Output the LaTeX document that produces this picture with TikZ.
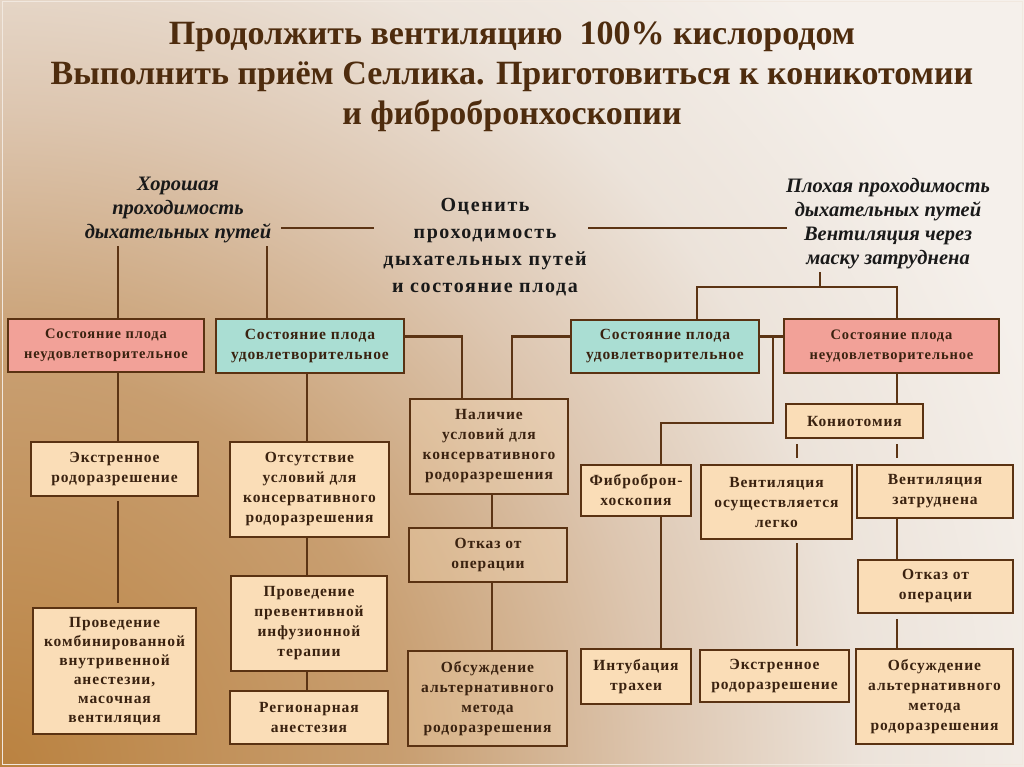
\documentclass[tikz,border=0pt]{standalone}
\usepackage{fontspec}
\setmainfont{Liberation Serif}
\newfontfamily\boxfont{Liberation Serif}[LetterSpace=6]
\newfontfamily\widefont{Liberation Serif}[LetterSpace=8]
\usetikzlibrary{calc}
\definecolor{bgA}{HTML}{BA8240}
\definecolor{bgB}{HTML}{C89E70}
\definecolor{bgC}{HTML}{DDC6B0}
\definecolor{bgD}{HTML}{ECE3DA}
\definecolor{bgE}{HTML}{F5F0EB}
\definecolor{lineC}{HTML}{5C3414}
\definecolor{boxB}{HTML}{5A3212}
\definecolor{boxT}{HTML}{3A2210}
\definecolor{titleC}{HTML}{4E2C0E}
\definecolor{cream}{HTML}{FADDB7}
\definecolor{pinkC}{HTML}{F2A198}
\definecolor{tealC}{HTML}{AADED3}
\pgfdeclareradialshading{bgshade}{\pgfpoint{0bp}{0bp}}{color(0bp)=(bgA); color(5bp)=(bgB); color(8.2bp)=(bgC); color(10.8bp)=(bgD); color(13.8bp)=(bgE); color(50bp)=(bgE)}
\tikzset{
  box/.style={draw=boxB, line width=2.4pt, fill=cream, inner sep=0pt, align=center,
    text=boxT, font=\boxfont\bfseries\fontsize{15.5}{20}\selectfont},
  pinkbox/.style={box, fill=pinkC, font=\boxfont\bfseries\fontsize{14.5}{20}\selectfont},
  tealbox/.style={box, fill=tealC},
  glassbox/.style={box, fill=cream, fill opacity=0.3, text opacity=1},
  conn/.style={draw=lineC, line width=2.2pt},
  lbl/.style={align=center, inner sep=0pt, text=black!90,
    font=\bfseries\itshape\fontsize{20.5}{24}\selectfont},
  clbl/.style={align=center, inner sep=0pt, text=black!90,
    font=\widefont\bfseries\fontsize{20}{27}\selectfont},
  ttl/.style={align=center, inner sep=0pt, text=titleC,
    font=\bfseries\fontsize{34}{40}\selectfont}
}
\begin{document}
\begin{tikzpicture}[x=1pt, y=-1pt]
\useasboundingbox (0,0) rectangle (1024,767);
\begin{scope}
  \clip (0,0) rectangle (1024,767);
  \shade[shading=bgshade] (0,767) circle (2000);
\end{scope}
\draw[white!60!bgC, line width=1pt] (2,2) rectangle (1022,764);

% title and labels
\node[ttl] (title) at (512,77) {Продолжить вентиляцию\ \ 100\% кислородом\\Выполнить приём Селлика. Приготовиться к коникотомии\\и фибробронхоскопии};
\node[lbl] (gl) at (178,210) {Хорошая\\проходимость\\дыхательных путей};
\node[clbl] (cl) at (485,247) {Оценить\\проходимость\\дыхательных путей\\и состояние плода};
\node[lbl] (bl) at (888,224) {Плохая проходимость\\дыхательных путей\\Вентиляция через\\маску затруднена};

% boxes
\node[pinkbox, minimum width=196, minimum height=53] (p1) at (106,345.5) {Состояние плода\\неудовлетворительное};
\node[tealbox, minimum width=188, minimum height=54] (t1) at (310,346) {Состояние плода\\удовлетворительное};
\node[tealbox, minimum width=188, minimum height=53] (t2) at (665,346.5) {Состояние плода\\удовлетворительное};
\node[pinkbox, minimum width=215, minimum height=54] (p2) at (891.5,346) {Состояние плода\\неудовлетворительное};

\node[box, minimum width=167, minimum height=54] (e1) at (114.5,469) {Экстренное\\родоразрешение};
\node[box, minimum width=163, minimum height=126, font=\boxfont\bfseries\fontsize{15.5}{19}\selectfont] (k1) at (114.5,671) {Проведение\\комбинированной\\внутривенной\\анестезии,\\масочная\\вентиляция};
\node[box, minimum width=159, minimum height=95] (o1) at (309.5,489.5) {Отсутствие\\условий для\\консервативного\\родоразрешения};
\node[box, minimum width=156, minimum height=95] (pr) at (309,623.5) {Проведение\\превентивной\\инфузионной\\терапии};
\node[box, minimum width=158, minimum height=53] (rg) at (309,717.5) {Регионарная\\анестезия};

\node[glassbox, minimum width=158, minimum height=95] (n) at (489,446.5) {Наличие\\условий для\\консервативного\\родоразрешения};
\node[glassbox, minimum width=158, minimum height=54] (ot) at (488,555) {Отказ от\\операции};
\node[glassbox, minimum width=159, minimum height=95] (ob) at (487.5,698.5) {Обсуждение\\альтернативного\\метода\\родоразрешения};

\node[box, minimum width=110, minimum height=51] (f) at (636,490.5) {Фиброброн-\\хоскопия};
\node[box, minimum width=110, minimum height=55] (it) at (636,676.5) {Интубация\\трахеи};
\node[box, minimum width=137, minimum height=34] (kn) at (854.5,421) {Кониотомия};
\node[box, minimum width=151, minimum height=74] (vl) at (776.5,502) {Вентиляция\\осуществляется\\легко};
\node[box, minimum width=156, minimum height=53] (vz) at (935,491.5) {Вентиляция\\затруднена};
\node[box, minimum width=149, minimum height=52] (e2) at (774.5,676) {Экстренное\\родоразрешение};
\node[box, minimum width=155, minimum height=53] (ot2) at (935.5,586.5) {Отказ от\\операции};
\node[box, minimum width=157, minimum height=95] (ob2) at (934.5,696.5) {Обсуждение\\альтернативного\\метода\\родоразрешения};

% column / row coordinates
\coordinate (cA) at (118,0);
\coordinate (cB) at (267,0);
\coordinate (cC) at (307,0);
\coordinate (cD) at (462,0);
\coordinate (cE) at (512,0);
\coordinate (cF) at (492,0);
\coordinate (cG) at (661,0);
\coordinate (cH) at (773,0);
\coordinate (cI) at (697,0);
\coordinate (cJ) at (897,0);
\coordinate (cK) at (820,0);
\coordinate (cL) at (797,0);
\coordinate (rTop) at (0,228);
\coordinate (rGood) at (0,246);
\coordinate (rBad) at (0,272);
\coordinate (rBadH) at (0,287);
\coordinate (rT) at (0,336.5);
\coordinate (rFib) at (0,423);
\coordinate (hA) at (281,228);
\coordinate (hB) at (374,228);
\coordinate (hC) at (588,228);
\coordinate (hD) at (787,228);

% connectors
\draw[conn] (cA |- rGood) -- (p1.north -| cA);
\draw[conn] (cB |- rGood) -- (t1.north -| cB);
\draw[conn] (hA) -- (hB);
\draw[conn] (hC) -- (hD);
\draw[conn] (cK |- rBad) -- (cK |- rBadH);
\draw[conn] (t2.north -| cI) -- (cI |- rBadH) -- (cJ |- rBadH) -- (p2.north -| cJ);

\draw[conn] (p1.south -| cA) -- (e1.north -| cA);
\draw[conn, shorten <=4pt, shorten >=4pt] (e1.south -| cA) -- (k1.north -| cA);
\draw[conn] (t1.south -| cC) -- (o1.north -| cC);
\draw[conn] (o1.south -| cC) -- (pr.north -| cC);
\draw[conn] (pr.south -| cC) -- (rg.north -| cC);

\draw[conn] (t1.east |- rT) -- (cD |- rT) -- (n.north -| cD);
\draw[conn] (t2.west |- rT) -- (cE |- rT) -- (n.north -| cE);
\draw[conn] (n.south -| cF) -- (ot.north -| cF);
\draw[conn] (ot.south -| cF) -- (ob.north -| cF);

\draw[conn] (t2.east |- rT) -- (p2.west |- rT);
\draw[conn] (cH |- rT) -- (cH |- rFib) -- (cG |- rFib) -- (f.north -| cG);
\draw[conn] (f.south -| cG) -- (it.north -| cG);

\draw[conn] (p2.south -| cJ) -- (kn.north -| cJ);
\draw[conn, shorten <=5pt, shorten >=6pt] (kn.south -| cL) -- (vl.north -| cL);
\draw[conn, shorten <=5pt, shorten >=6pt] (kn.south -| cJ) -- (vz.north -| cJ);
\draw[conn, shorten <=3pt, shorten >=3pt] (vl.south -| cL) -- (e2.north -| cL);
\draw[conn] (vz.south -| cJ) -- (ot2.north -| cJ);
\draw[conn, shorten <=5pt] (ot2.south -| cJ) -- (ob2.north -| cJ);
\end{tikzpicture}
\end{document}
